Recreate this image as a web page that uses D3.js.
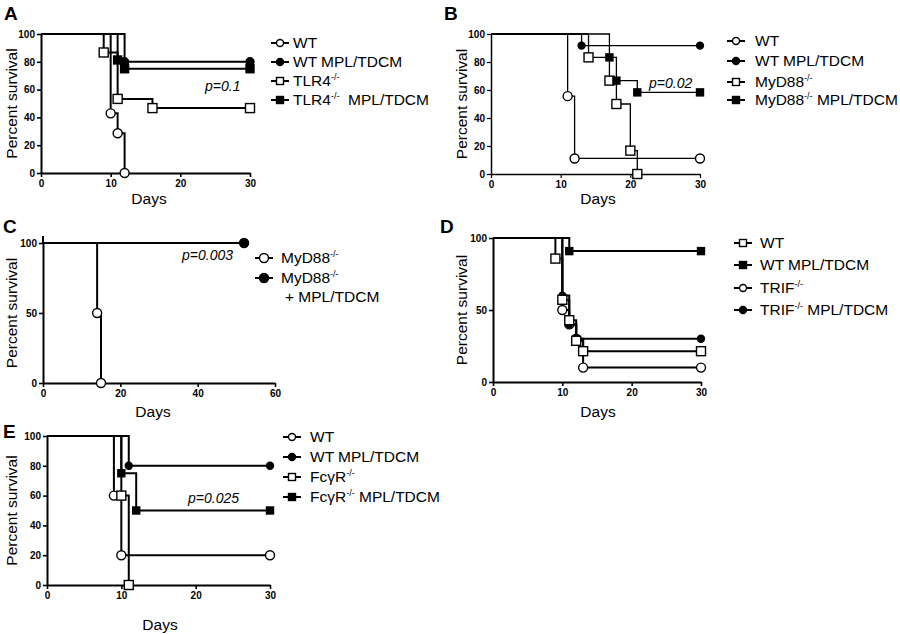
<!DOCTYPE html>
<html><head><meta charset="utf-8">
<script src="https://cdn.jsdelivr.net/npm/d3@7"></script>
<style>
body{margin:0;background:#fff;}
svg{display:block;font-family:"Liberation Sans",Arial,sans-serif;}
</style></head>
<body><svg id="c" width="900" height="634"></svg>
<script>
// ---------- DATA (Kaplan-Meier step points: [day, percent survival]) ----------
// Panel A
const aWT      = [[0,100],[10,42.9],[11,28.6],[12,0]];
const aWTMPL   = [[0,100],[12,80],[30,80]];
const aTLR4    = [[0,100],[9,86.7],[11,53.3],[16,46.7],[30,46.7]];
const aTLR4MPL = [[0,100],[11,81.3],[12,75],[30,75]];
// Panel B
const bWT      = [[0,100],[11,55.6],[12,11.1],[30,11.1]];
const bWTMPL   = [[0,100],[13,91.7],[30,91.7]];
const bMyD     = [[0,100],[14,83.3],[17,66.7],[18,50],[20,16.7],[21,0]];
const bMyDMPL  = [[0,100],[17,83.3],[18,66.7],[21,58.3],[30,58.3]];
// Panel C
const cMyD     = [[0,100],[14,50],[15,0]];
const cMyDMPL  = [[0,100],[52,100]];
// Panel D
const dWT      = [[0,100],[9,85.7],[10,57.1],[11,42.9],[12,28.6],[13,21.4],[30,21.4]];
const dWTMPL   = [[0,100],[11,90.9],[30,90.9]];
const dTRIF    = [[0,100],[10,50],[11,40],[12,30],[13,10],[30,10]];
const dTRIFMPL = [[0,100],[10,60],[11,40],[12,30],[30,30]];
// Panel E
const eWT      = [[0,100],[9,60],[10,20],[30,20]];
const eWTMPL   = [[0,100],[11,80],[30,80]];
const eFc      = [[0,100],[10,60],[11,0]];
const eFcMPL   = [[0,100],[10,75],[12,50],[30,50]];

// Axis ticks
const yTicks100 = [0,20,40,60,80,100];
const yTicks50  = [0,50,100];
const xTicks30  = [0,10,20,30];
const xTicks60  = [0,20,40,60];

// Legend labels: [main, superscript, rest]
const legA = [["WT","",""],["WT MPL/TDCM","",""],["TLR4","-/-",""],["TLR4","-/-","  MPL/TDCM"]];
const legB = [["WT","",""],["WT MPL/TDCM","",""],["MyD88","-/-",""],["MyD88","-/-"," MPL/TDCM"]];
const legC = [["MyD88","-/-",""],["MyD88","-/-",""]];
const legD = [["WT","",""],["WT MPL/TDCM","",""],["TRIF","-/-",""],["TRIF","-/-"," MPL/TDCM"]];
const legE = [["WT","",""],["WT MPL/TDCM","",""],["Fc\u03B3R","-/-",""],["Fc\u03B3R","-/-"," MPL/TDCM"]];

// ---------- DRAWING ----------
const svg = d3.select("#c");

function marker(g, shape, filled, cx, cy, size){
  if(shape==="circle"){
    g.append("circle").attr("cx",cx).attr("cy",cy).attr("r",size/2)
      .attr("fill",filled?"#000":"#fff").attr("stroke","#000").attr("stroke-width",1.4);
  } else {
    g.append("rect").attr("x",cx-size/2).attr("y",cy-size/2).attr("width",size).attr("height",size)
      .attr("fill",filled?"#000":"#fff").attr("stroke","#000").attr("stroke-width",1.4);
  }
}

function panel(cfg){
  const g = svg.append("g");
  const x = d3.scaleLinear().domain(cfg.xDomain).range(cfg.xRange);
  const y = d3.scaleLinear().domain([0,100]).range(cfg.yRange);
  const sw = cfg.sw;
  // lines
  const line = d3.line().x(d=>x(d[0])).y(d=>y(d[1])).curve(d3.curveStepAfter);
  cfg.series.forEach(s=>{
    g.append("path").attr("d",line(s.data)).attr("fill","none")
      .attr("stroke","#000").attr("stroke-width",sw);
  });
  // axes
  const ax = g.append("g").attr("transform",`translate(0,${cfg.yRange[0]})`)
    .call(d3.axisBottom(x).tickValues(cfg.xTicks).tickSize(4).tickSizeOuter(0).tickPadding(3));
  const ay = g.append("g").attr("transform",`translate(${cfg.xRange[0]},0)`)
    .call(d3.axisLeft(y).tickValues(cfg.yTicks).tickSize(4).tickSizeOuter(0).tickPadding(2));
  if(cfg.yExtend){
    ay.append("line").attr("x1",0).attr("x2",0).attr("y1",y(100)).attr("y2",y(100)-cfg.yExtend)
      .attr("stroke","#000").attr("stroke-width",cfg.asw);
  }
  [ax,ay].forEach(a=>{
    a.select(".domain").attr("stroke-width",cfg.asw).attr("stroke","#000");
    a.selectAll(".tick line").attr("stroke-width",cfg.asw*0.8).attr("stroke","#000");
    a.selectAll(".tick text").attr("font-family","'Liberation Sans',Arial,sans-serif")
      .attr("font-weight","bold").attr("font-size",10).attr("fill","#000");
  });
  // markers
  cfg.series.forEach(s=>{
    s.data.slice(1).forEach(d=>{
      marker(g, s.shape, s.filled, x(d[0]), y(d[1]), s.filled ? cfg.msF : cfg.msO);
    });
  });
  // titles
  const yc = (cfg.yRange[0]+cfg.yRange[1])/2;
  g.append("text").attr("transform",`translate(${cfg.ylabX},${yc}) rotate(-90)`)
    .attr("text-anchor","middle").attr("font-size",15.5).text("Percent survival");
  g.append("text").attr("x",cfg.daysX).attr("y",cfg.daysY).attr("text-anchor","middle")
    .attr("font-size",15.5).text("Days");
  g.append("text").attr("x",cfg.letter[1]).attr("y",cfg.letter[2]).attr("font-weight","bold")
    .attr("font-size",19).text(cfg.letter[0]);
  if(cfg.p){
    g.append("text").attr("x",cfg.p[1]).attr("y",cfg.p[2]).attr("font-style","italic")
      .attr("font-size",14).text(cfg.p[0]);
  }
  // legend
  cfg.legend.items.forEach((it,i)=>{
    const L = cfg.legend;
    const ly = L.ys[i];
    const s = cfg.series[L.order[i]];
    g.append("line").attr("x1",L.mx-9).attr("x2",L.mx+9).attr("y1",ly).attr("y2",ly)
      .attr("stroke","#000").attr("stroke-width",2);
    marker(g, s.shape, s.filled, L.mx, ly, L.ms || 7);
    const t = g.append("text").attr("x",L.tx).attr("y",ly+5).attr("font-size",15.5);
    t.append("tspan").text(it[0]);
    if(it[1]) t.append("tspan").attr("font-size",9).attr("dy",-6).text(it[1]);
    if(it[2]) t.append("tspan").attr("dy",it[1]?6:0).attr("xml:space","preserve").style("white-space","pre").text(it[2]);
  });
  if(cfg.legend.extra){
    const e = cfg.legend.extra;
    g.append("text").attr("x",e[1]).attr("y",e[2]).attr("font-size",15.5).text(e[0]);
  }
}

panel({
  xDomain:[0,30], xRange:[41,250], yRange:[173,34], xTicks:xTicks30, yTicks:yTicks100,
  sw:2, asw:2, msO:9, msF:8,
  series:[
    {data:aWT, shape:"circle", filled:false},
    {data:aTLR4, shape:"square", filled:false},
    {data:aTLR4MPL, shape:"square", filled:true},
    {data:aWTMPL, shape:"circle", filled:true}
  ],
  ylabX:17, daysX:149, daysY:204, letter:["A",4,20], p:["p=0.1",205,91],
  legend:{items:legA, order:[0,3,1,2], mx:280, tx:293, ys:[43,62,81,100]}
});

panel({
  xDomain:[0,30], xRange:[491,700], yRange:[174,34], xTicks:xTicks30, yTicks:yTicks100,
  sw:1.3, asw:1.5, msO:9, msF:7,
  series:[
    {data:bWT, shape:"circle", filled:false},
    {data:bMyD, shape:"square", filled:false},
    {data:bMyDMPL, shape:"square", filled:true},
    {data:bWTMPL, shape:"circle", filled:true}
  ],
  ylabX:467, daysX:598, daysY:204, letter:["B",444,20], p:["p=0.02",649,88],
  legend:{items:legB, order:[0,3,1,2], mx:736, tx:755, ys:[41,61,82,100]}
});

panel({
  xDomain:[0,60], xRange:[43,275], yRange:[383,243], xTicks:xTicks60, yTicks:yTicks50, yExtend:7,
  sw:2, asw:2, msO:9, msF:9,
  series:[
    {data:cMyD, shape:"circle", filled:false},
    {data:cMyDMPL, shape:"circle", filled:true}
  ],
  ylabX:17, daysX:153, daysY:417, letter:["C",3,233], p:["p=0.003",182,260],
  legend:{items:legC, order:[0,1], mx:264, tx:281, ys:[258,278], ms:9, extra:["+ MPL/TDCM",285,302]}
});

panel({
  xDomain:[0,30], xRange:[493,701], yRange:[382,238], xTicks:xTicks30, yTicks:yTicks50,
  sw:2, asw:2, msO:9, msF:7,
  series:[
    {data:dTRIF, shape:"circle", filled:false},
    {data:dTRIFMPL, shape:"circle", filled:true},
    {data:dWT, shape:"square", filled:false},
    {data:dWTMPL, shape:"square", filled:true}
  ],
  ylabX:467, daysX:598, daysY:417, letter:["D",440,233], p:null,
  legend:{items:legD, order:[2,3,0,1], mx:743, tx:760, ys:[243,265,288,310]}
});

panel({
  xDomain:[0,30], xRange:[47,270], yRange:[585,436], xTicks:xTicks30, yTicks:yTicks100,
  sw:2, asw:2, msO:9, msF:7,
  series:[
    {data:eWT, shape:"circle", filled:false},
    {data:eFc, shape:"square", filled:false},
    {data:eFcMPL, shape:"square", filled:true},
    {data:eWTMPL, shape:"circle", filled:true}
  ],
  ylabX:17, daysX:160, daysY:630, letter:["E",3,438], p:["p=0.025",188,503],
  legend:{items:legE, order:[0,3,1,2], mx:292, tx:310, ys:[437,457,477,497]}
});
</script></body></html>
